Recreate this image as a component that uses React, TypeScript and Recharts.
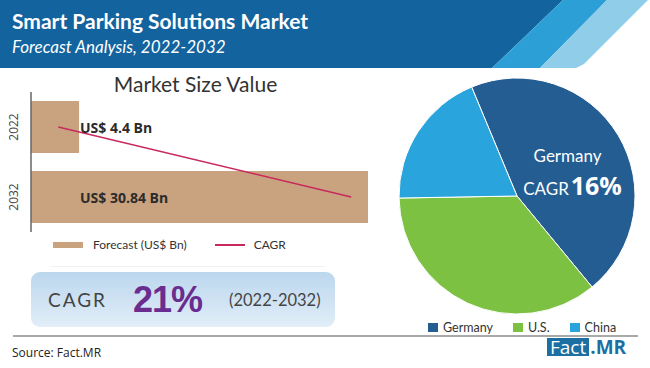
import React from 'react';
import {
  ComposedChart,
  Bar,
  Line,
  XAxis,
  YAxis,
  Legend,
  LabelList,
  PieChart,
  Pie,
  Cell,
} from 'recharts';

// market size (US$ Bn)
const years = ['2022', '2032'];
const forecast = [4.4, 30.84];
const forecastLabels = ['US$ 4.4 Bn', 'US$ 30.84 Bn'];
// CAGR trend line
const cagrTrend = [2.5, 29.3];

// regional split (share of pie, %)
const regions = ['Germany', 'U.S.', 'China'];
const regionShare = [45.3, 35.7, 19];
const regionColors = ['#235d92', '#7dc143', '#29a4dc'];

const barData = years.map((year, i) => ({
  year,
  forecast: forecast[i],
  cagr: cagrTrend[i],
  label: forecastLabels[i],
}));

const pieData = regions.map((name, i) => ({ name, value: regionShare[i] }));

const BAR_COLOR = '#c9a37f';
const LINE_COLOR = '#c8285c';
const SANS = '"Open Sans", "Noto Sans", sans-serif';
const GOTHIC = 'Lato, "Open Sans", sans-serif';

const YearTick = ({ x, y, payload }: any) => (
  <text
    x={x - 10}
    y={y}
    transform={`rotate(-90 ${x - 10} ${y})`}
    textAnchor="middle"
    dominantBaseline="central"
    fontSize={12}
    fill="#444"
    fontFamily={SANS}
  >
    {payload.value}
  </text>
);

const BarValueLabel = ({ x, y, height, index }: any) => (
  <text
    x={x + 49}
    y={y + height / 2}
    dominantBaseline="central"
    fontSize={14}
    fontWeight={700}
    fill="#2b2b2b"
    fontFamily={SANS}
  >
    {forecastLabels[index]}
  </text>
);

const BarLegend = () => (
  <div style={{ display: 'flex', alignItems: 'center', fontFamily: GOTHIC, fontSize: 12, color: '#333', paddingLeft: 53, paddingTop: 5 }}>
    <span style={{ display: 'inline-block', width: 30, height: 6, background: BAR_COLOR }} />
    <span style={{ marginLeft: 10 }}>Forecast (US$ Bn)</span>
    <span style={{ display: 'inline-block', width: 30, height: 2, background: LINE_COLOR, marginLeft: 28 }} />
    <span style={{ marginLeft: 9 }}>CAGR</span>
  </div>
);

const PieLegend = () => (
  <div style={{ display: 'flex', alignItems: 'center', fontFamily: GOTHIC, fontSize: 12.5, color: '#333', paddingLeft: 30, height: 14 }}>
    {regions.map((name, i) => (
      <span key={name} style={{ display: 'flex', alignItems: 'center', marginRight: 20 }}>
        <span style={{ display: 'inline-block', width: 10, height: 9, background: regionColors[i], marginRight: 5 }} />
        {name}
      </span>
    ))}
  </div>
);

const GermanyLabel = ({ cx, cy, midAngle, outerRadius, index }: any) => {
  if (index !== 0) return null;
  const rad = (Math.PI / 180) * midAngle;
  const r = outerRadius * 0.5;
  const lx = cx + r * Math.cos(rad);
  const ly = cy - r * Math.sin(rad);
  return (
    <g fontFamily={GOTHIC} fill="#fff">
      <text x={lx} y={ly - 4} textAnchor="middle" fontSize={17}>
        Germany
      </text>
      <text x={lx + 5} y={ly + 29} textAnchor="middle">
        <tspan fontSize={17}>CAGR</tspan>
        <tspan fontSize={25} fontWeight={700} fontFamily={SANS} dx={2}>16%</tspan>
      </text>
    </g>
  );
};

export default function App() {
  return (
    <div
      style={{
        position: 'absolute',
        left: 0,
        top: 0,
        width: 650,
        height: 368,
        background: '#fff',
        overflow: 'hidden',
        fontFamily: SANS,
      }}
    >
      {/* header band */}
      <svg width={650} height={68} style={{ position: 'absolute', left: 0, top: 0 }}>
        <polygon points="0,0 563,0 492,68 0,68" fill="#13639f" />
        <polygon points="563,0 607,0 540,68 492,68" fill="#2b9fd6" />
        <polygon points="607,0 648,0 584,64 576,68 540,68" fill="#8fcde8" />
        <text x={12} y={29} fill="#fff" fontSize={21} fontWeight={700} fontFamily={GOTHIC}>
          Smart Parking Solutions Market
        </text>
        <text x={12} y={53} fill="#fff" fontSize={17} fontStyle="italic" fontFamily={GOTHIC}>
          Forecast Analysis, 2022-2032
        </text>
      </svg>

      <div
        style={{
          position: 'absolute',
          left: 0,
          width: 391,
          top: 71,
          textAlign: 'center',
          fontFamily: GOTHIC,
          fontSize: 21,
          color: '#333',
        }}
      >
        Market Size Value
      </div>

      <div style={{ position: 'absolute', left: 0, top: 70 }}>
        <ComposedChart
          layout="vertical"
          width={380}
          height={200}
          data={barData}
          margin={{ top: 22, right: 12, bottom: 14, left: 0 }}
          barCategoryGap={9}
        >
          <XAxis type="number" domain={[0, 30.84]} hide />
          <YAxis
            type="category"
            dataKey="year"
            width={31}
            tick={<YearTick />}
            tickLine={false}
            axisLine={{ stroke: '#666', strokeWidth: 1.5 }}
          />
          <Bar dataKey="forecast" fill={BAR_COLOR} barSize={52} isAnimationActive={false}>
            <LabelList dataKey="label" content={<BarValueLabel />} />
          </Bar>
          <Line
            type="linear"
            dataKey="cagr"
            stroke={LINE_COLOR}
            strokeWidth={1.5}
            dot={false}
            activeDot={false}
            isAnimationActive={false}
          />
          <Legend verticalAlign="bottom" height={24} content={<BarLegend />} />
        </ComposedChart>
      </div>

      <div
        style={{
          position: 'absolute',
          left: 50,
          top: 266,
          width: 275,
          height: 1,
          background: '#eef3f8',
        }}
      />

      {/* CAGR box */}
      <div
        style={{
          position: 'absolute',
          left: 31,
          top: 272,
          width: 304,
          height: 55,
          borderRadius: 9,
          background: 'linear-gradient(180deg, #bcd7ee 0%, #d2e4f4 60%, #e2eef8 100%)',
          display: 'flex',
          alignItems: 'center',
          fontFamily: GOTHIC,
          color: '#444',
        }}
      >
        <span style={{ marginLeft: 17, fontSize: 19, letterSpacing: 2 }}>CAGR</span>
        <span
          style={{
            marginLeft: 26,
            fontSize: 36,
            fontWeight: 700,
            color: '#6a2c8f',
            fontFamily: '"Liberation Sans", Arial, sans-serif',
            letterSpacing: -1,
          }}
        >
          21%
        </span>
        <span style={{ marginLeft: 27, fontSize: 16.5 }}>(2022-2032)</span>
      </div>

      <div style={{ position: 'absolute', left: 398, top: 66 }}>
        <PieChart width={252} height={268} margin={{ top: 0, right: 0, bottom: 0, left: 0 }}>
          <Pie
            data={pieData}
            dataKey="value"
            nameKey="name"
            cx={119}
            cy={130}
            outerRadius={118}
            startAngle={112.6}
            endAngle={-247.4}
            stroke="#fff"
            strokeWidth={1}
            label={<GermanyLabel />}
            labelLine={false}
            isAnimationActive={false}
          >
            {pieData.map((entry, i) => (
              <Cell key={`cell-${entry.name}`} fill={regionColors[i]} />
            ))}
          </Pie>
          <Legend verticalAlign="bottom" height={14} content={<PieLegend />} />
        </PieChart>
      </div>

      {/* footer */}
      <div style={{ position: 'absolute', left: 13, top: 335, width: 625, height: 2, background: '#a9a9a9' }} />
      <div style={{ position: 'absolute', left: 12, top: 344, fontSize: 12, color: '#222', fontFamily: SANS }}>
        Source: Fact.MR
      </div>
      <div
        style={{
          position: 'absolute',
          left: 547,
          top: 338,
          display: 'flex',
          alignItems: 'center',
          fontFamily: SANS,
          fontSize: 19,
          lineHeight: '18px',
        }}
      >
        <span style={{ background: '#1c6fa3', color: '#fff', padding: '0 3px' }}>Fact</span>
        <span style={{ color: '#1c6fa3', fontWeight: 700, marginLeft: 1 }}>.MR</span>
      </div>
    </div>
  );
}
